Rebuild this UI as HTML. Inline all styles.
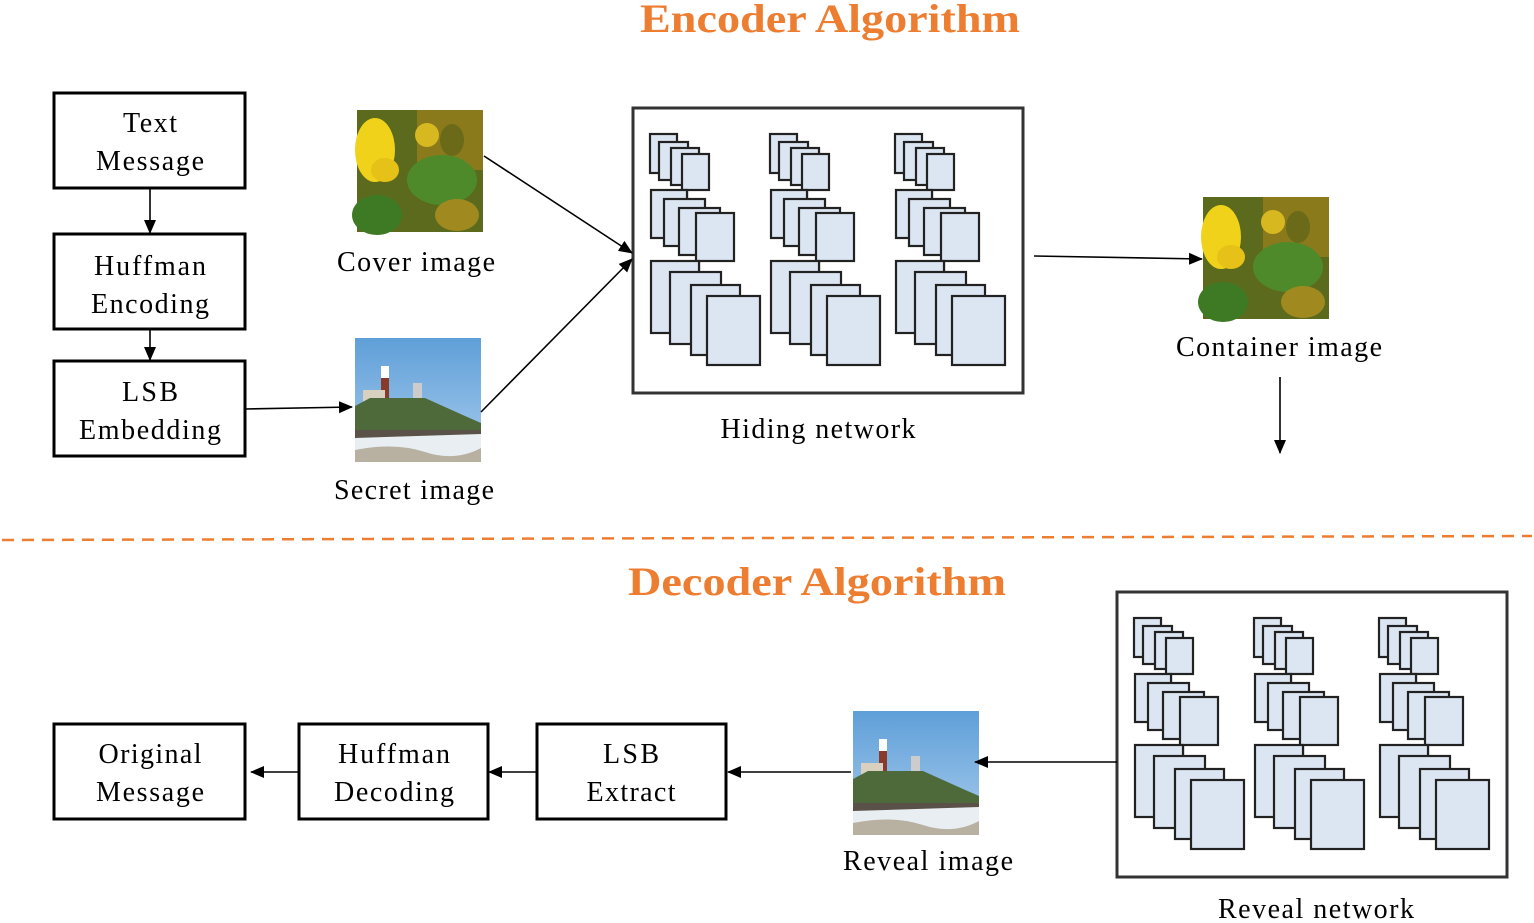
<!DOCTYPE html>
<html><head><meta charset="utf-8"><style>html,body{margin:0;padding:0;background:#fff}svg{display:block}</style></head>
<body>
<svg width="1534" height="923" viewBox="0 0 1534 923" xmlns="http://www.w3.org/2000/svg" font-family="'Liberation Serif',serif">
<defs>
<marker id="ah2" markerWidth="14" markerHeight="14" refX="13" refY="7" orient="auto" markerUnits="userSpaceOnUse" viewBox="0 0 14 14"><path d="M0,1 L14,7 L0,13 z" fill="#000"/></marker>
<g id="col" fill="#dce6f2" stroke="#222" stroke-width="2.2">
 <rect x="20" y="29" width="27" height="39"/><rect x="29" y="37" width="29" height="38"/><rect x="41" y="43" width="28" height="37"/><rect x="52" y="49" width="27" height="36"/>
 <line x1="57" y1="85" x2="57" y2="95"/>
 <rect x="21" y="85" width="36" height="48"/><rect x="34" y="94" width="41" height="47"/><rect x="49" y="103" width="41" height="47"/><rect x="66" y="108" width="38" height="48"/>
 <line x1="69" y1="156" x2="69" y2="168"/>
 <rect x="21" y="156" width="48" height="72"/><rect x="40" y="167" width="51" height="72"/><rect x="61" y="180" width="49" height="70"/><rect x="77" y="191" width="53" height="69"/>
</g>
<g id="net">
 <rect x="0" y="0" width="390" height="285" fill="#fff" stroke="#333" stroke-width="3"/>
 <use href="#col" transform="translate(-3,-3)"/>
 <use href="#col" transform="translate(117,-3)"/>
 <use href="#col" transform="translate(242,-3)"/>
</g>
<linearGradient id="sky" x1="0" y1="0" x2="0" y2="1"><stop offset="0" stop-color="#5f9fd8"/><stop offset="1" stop-color="#a9cdee"/></linearGradient>
<g id="flower">
 <rect width="126" height="122" fill="#5c6a1e"/>
 <rect x="60" y="0" width="66" height="60" fill="#8a7a1c"/>
 <ellipse cx="85" cy="70" rx="35" ry="25" fill="#4f8a2a"/>
 <ellipse cx="20" cy="105" rx="25" ry="20" fill="#3e7a24"/>
 <ellipse cx="100" cy="105" rx="22" ry="16" fill="#a08a20"/>
 <ellipse cx="18" cy="40" rx="20" ry="32" fill="#f0d21a"/>
 <ellipse cx="28" cy="60" rx="14" ry="12" fill="#e6c218"/>
 <ellipse cx="70" cy="25" rx="12" ry="12" fill="#d8b820"/>
 <ellipse cx="95" cy="30" rx="12" ry="16" fill="#6b6a18"/>
</g>
<g id="light">
 <rect width="126" height="124" fill="url(#sky)"/>
 <rect x="26" y="28" width="8" height="30" fill="#fff"/><rect x="26" y="40" width="8" height="20" fill="#8a3a2a"/>
 <rect x="58" y="45" width="9" height="18" fill="#ccc"/>
 <rect x="8" y="52" width="22" height="12" fill="#d9d0c0"/>
 <path d="M0,68 L15,60 L70,60 L110,78 L126,85 L126,95 L0,95 z" fill="#4e6a3a"/>
 <rect y="92" width="126" height="10" fill="#5a5248"/>
 <path d="M0,100 L126,96 L126,124 L0,124 z" fill="#e8eef2"/>
 <path d="M0,112 Q40,104 70,114 T126,110 L126,124 L0,124 z" fill="#b8b0a0"/>
</g>
</defs>

<text x="830" y="32" font-size="40" font-weight="bold" fill="#ed7d31" text-anchor="middle" textLength="380" lengthAdjust="spacingAndGlyphs">Encoder Algorithm</text>
<text x="817" y="595" font-size="40" font-weight="bold" fill="#ed7d31" text-anchor="middle" textLength="378" lengthAdjust="spacingAndGlyphs">Decoder Algorithm</text>

<line x1="2" y1="540" x2="1532" y2="536" stroke="#ed7d31" stroke-width="2.5" stroke-dasharray="12,8"/>

<g fill="#fff" stroke="#000" stroke-width="3">
<rect x="54" y="93" width="191" height="95"/>
<rect x="54" y="234" width="191" height="95"/>
<rect x="54" y="361" width="191" height="95"/>
<rect x="54" y="724" width="191" height="95"/>
<rect x="299" y="724" width="189" height="95"/>
<rect x="537" y="724" width="189" height="95"/>
</g>
<g font-size="28" text-anchor="middle" fill="#000" lengthAdjust="spacingAndGlyphs">
<text x="150" y="132" textLength="54">Text</text><text x="150" y="170" textLength="108">Message</text>
<text x="150" y="275" textLength="112">Huffman</text><text x="150" y="313" textLength="118">Encoding</text>
<text x="150" y="401" textLength="56">LSB</text><text x="150" y="439" textLength="142">Embedding</text>
<text x="150" y="763" textLength="103">Original</text><text x="150" y="801" textLength="108">Message</text>
<text x="394" y="763" textLength="112">Huffman</text><text x="394" y="801" textLength="120">Decoding</text>
<text x="631" y="763" textLength="56">LSB</text><text x="631" y="801" textLength="89">Extract</text>
<text x="416" y="271" textLength="158">Cover image</text>
<text x="414" y="499" textLength="160">Secret image</text>
<text x="818" y="438" textLength="195">Hiding network</text>
<text x="1279" y="356" textLength="206">Container image</text>
<text x="928" y="870" textLength="170">Reveal image</text>
<text x="1316" y="918" textLength="196">Reveal network</text>
</g>

<use href="#flower" x="357" y="110"/>
<use href="#flower" x="1203" y="197"/>
<use href="#light" x="355" y="338"/>
<use href="#light" x="853" y="711"/>

<use href="#net" transform="translate(633,108)"/>
<use href="#net" transform="translate(1117,592)"/>

<g stroke="#000" stroke-width="1.6" fill="none">
<line x1="150" y1="188" x2="150" y2="233" marker-end="url(#ah2)"/>
<line x1="150" y1="329" x2="150" y2="360" marker-end="url(#ah2)"/>
<line x1="245" y1="409" x2="352" y2="407" marker-end="url(#ah2)"/>
<line x1="484" y1="156" x2="632" y2="253" marker-end="url(#ah2)"/>
<line x1="481" y1="412" x2="632" y2="259" marker-end="url(#ah2)"/>
<line x1="1034" y1="256" x2="1202" y2="259" marker-end="url(#ah2)"/>
<line x1="1280" y1="377" x2="1280" y2="453" marker-end="url(#ah2)"/>
<line x1="1117" y1="762" x2="975" y2="762" marker-end="url(#ah2)"/>
<line x1="851" y1="772" x2="728" y2="772" marker-end="url(#ah2)"/>
<line x1="537" y1="772" x2="489" y2="772" marker-end="url(#ah2)"/>
<line x1="299" y1="772" x2="251" y2="772" marker-end="url(#ah2)"/>
</g>
</svg>
</body></html>
